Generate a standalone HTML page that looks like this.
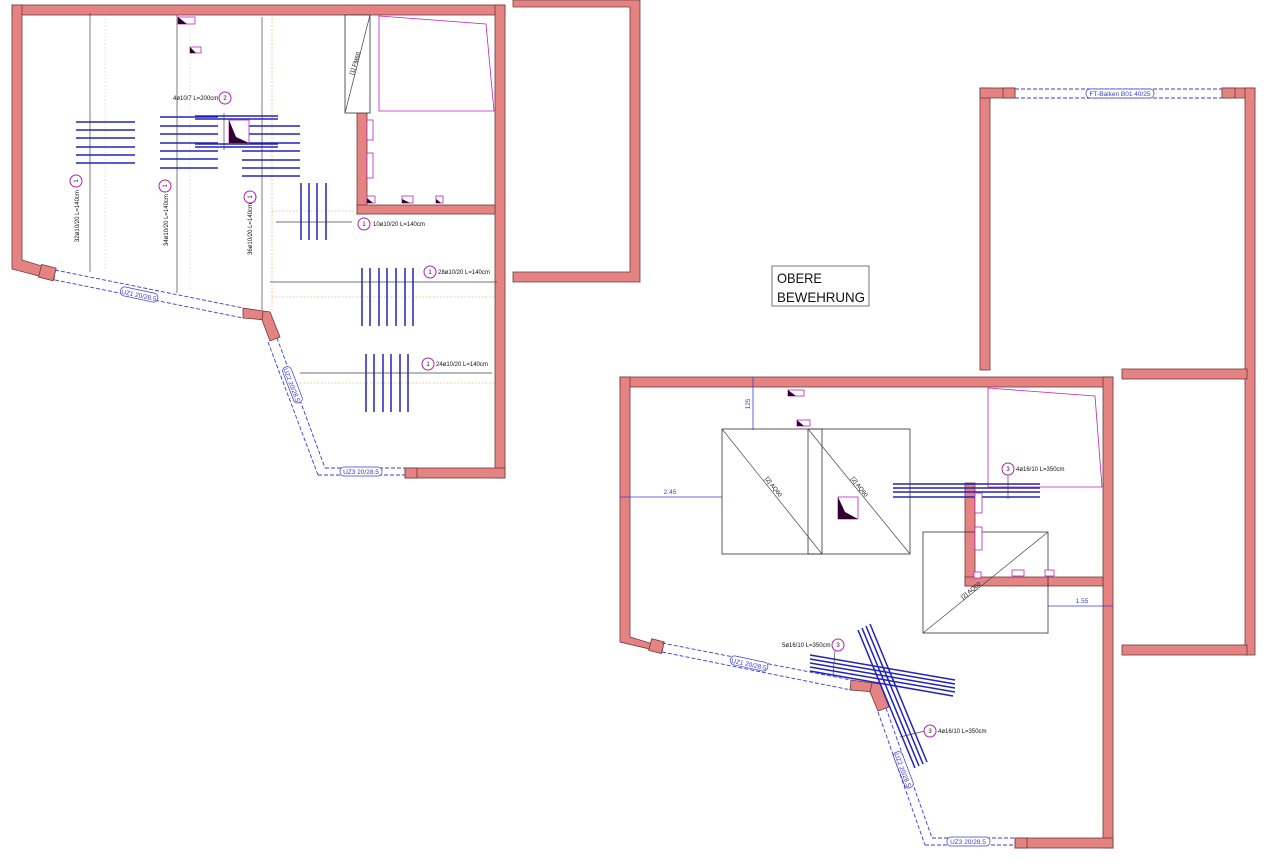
<!DOCTYPE html>
<html><head><meta charset="utf-8"><style>
html,body{margin:0;padding:0;background:#fff;}
svg{display:block;font-family:"Liberation Sans",sans-serif;}
.w{fill:#e58383;stroke:#6b3b3b;stroke-width:.8}
.d{fill:none;stroke:#3b3bd6;stroke-width:.9;stroke-dasharray:4 2}
.b{stroke:#2323b8;stroke-width:1.5}
.k{stroke:#444;stroke-width:.7;fill:none}
.o{stroke:#e8b070;stroke-width:.8;stroke-dasharray:1.5 2}
.g{stroke:#ccc;stroke-width:.6;stroke-dasharray:1.5 2}
.m{fill:#fff;stroke:#c020c0;stroke-width:.8}
.c{fill:#fff;stroke:#b020b0;stroke-width:1}
.t{font-size:6px;fill:#111}
.bl{font-size:6.5px;fill:#3b3bd6}
</style></head><body>
<svg width="1280" height="868" viewBox="0 0 1280 868" xmlns="http://www.w3.org/2000/svg">
<!-- LEFT PLAN walls -->
<rect class="w" x="12" y="5" width="493" height="10"/>
<polygon class="w" points="12,5 22,5 22,260 55,270 54,280 12,269"/>
<rect class="w" x="40" y="266" width="15" height="13" transform="rotate(14 47 272)"/>
<rect class="w" x="495" y="5" width="10" height="473"/>
<rect class="w" x="405" y="468" width="100" height="10"/>
<rect class="w" x="405" y="468" width="12" height="10"/>
<rect class="w" x="357" y="112" width="10" height="102"/>
<rect class="w" x="357" y="205" width="138" height="9"/>
<polygon class="w" points="243,308 263,311 267,320 243,318"/>
<polygon class="w" points="263,311 270,312 280,337 270,341 262,320"/>
<!-- left lintels -->
<line class="d" x1="55" y1="270" x2="243" y2="308"/><line class="d" x1="55" y1="280" x2="243" y2="318"/>
<line class="d" x1="277" y1="338" x2="325" y2="468"/><line class="d" x1="268" y1="342" x2="318" y2="475"/>
<line class="d" x1="325" y1="468" x2="405" y2="468"/><line class="d" x1="318" y1="475" x2="405" y2="475"/>
<g transform="translate(139,295) rotate(12)"><rect x="-19" y="-5" width="38" height="9" rx="4" fill="#fff" stroke="#3b3bd6" stroke-width=".7"/><text class="bl" x="0" y="2.5" text-anchor="middle">UZ1 20/28.5</text></g>
<g transform="translate(292,385) rotate(69)"><rect x="-19" y="-5" width="38" height="9" rx="4" fill="#fff" stroke="#3b3bd6" stroke-width=".7"/><text class="bl" x="0" y="2.5" text-anchor="middle">UZ2 20/28.5</text></g>
<rect x="340" y="467" width="42" height="9" rx="4" fill="#fff" stroke="#3b3bd6" stroke-width=".7"/><text class="bl" x="361" y="474" text-anchor="middle">UZ3 20/28.5</text>
<!-- dotted guides -->
<line class="g" x1="105" y1="15" x2="105" y2="270"/><line class="g" x1="190" y1="15" x2="190" y2="290"/>
<line class="o" x1="272" y1="15" x2="272" y2="310"/>
<line class="o" x1="272" y1="211" x2="357" y2="211"/><line class="o" x1="272" y1="297" x2="495" y2="297"/><line class="o" x1="300" y1="383" x2="495" y2="383"/>
<!-- dim lines -->
<line class="k" x1="90" y1="13" x2="90" y2="272"/><line class="k" x1="177" y1="15" x2="177" y2="293"/><line class="k" x1="262" y1="17" x2="262" y2="310"/>
<line class="k" x1="276" y1="222" x2="352" y2="222"/><line class="k" x1="270" y1="282" x2="497" y2="282"/><line class="k" x1="300" y1="373" x2="492" y2="373"/>
<line class="k" x1="224" y1="113" x2="224" y2="150"/>
<!-- bars left -->
<g class="b">
<line x1="76" y1="122" x2="135" y2="122"/><line x1="76" y1="130" x2="135" y2="130"/><line x1="76" y1="138" x2="135" y2="138"/><line x1="76" y1="147" x2="135" y2="147"/><line x1="76" y1="155" x2="135" y2="155"/><line x1="76" y1="163" x2="135" y2="163"/>
<line x1="160" y1="117" x2="218" y2="117"/><line x1="160" y1="126" x2="218" y2="126"/><line x1="160" y1="134" x2="218" y2="134"/><line x1="160" y1="143" x2="218" y2="143"/><line x1="160" y1="151" x2="218" y2="151"/><line x1="160" y1="159" x2="218" y2="159"/><line x1="160" y1="168" x2="218" y2="168"/>
<line x1="242" y1="126" x2="300" y2="126"/><line x1="242" y1="134" x2="300" y2="134"/><line x1="242" y1="143" x2="300" y2="143"/><line x1="242" y1="151" x2="300" y2="151"/><line x1="242" y1="160" x2="300" y2="160"/><line x1="242" y1="168" x2="300" y2="168"/><line x1="242" y1="176" x2="300" y2="176"/>
<line x1="195" y1="116" x2="278" y2="116"/><line x1="195" y1="119" x2="278" y2="119"/><line x1="195" y1="144" x2="278" y2="144"/><line x1="195" y1="147" x2="278" y2="147"/>
<line x1="301" y1="183" x2="301" y2="240"/><line x1="309" y1="183" x2="309" y2="240"/><line x1="317" y1="183" x2="317" y2="240"/><line x1="326" y1="183" x2="326" y2="240"/>
<line x1="362" y1="268" x2="362" y2="326"/><line x1="370" y1="268" x2="370" y2="326"/><line x1="379" y1="268" x2="379" y2="326"/><line x1="387" y1="268" x2="387" y2="326"/><line x1="396" y1="268" x2="396" y2="326"/><line x1="405" y1="268" x2="405" y2="326"/><line x1="413" y1="268" x2="413" y2="326"/>
<line x1="366" y1="354" x2="366" y2="412"/><line x1="374" y1="354" x2="374" y2="412"/><line x1="383" y1="354" x2="383" y2="412"/><line x1="391" y1="354" x2="391" y2="412"/><line x1="400" y1="354" x2="400" y2="412"/><line x1="408" y1="354" x2="408" y2="412"/>
</g>
<!-- labels left -->
<circle class="c" cx="76" cy="181" r="6"/><text class="t" x="76" y="183" text-anchor="middle" transform="rotate(-90 76 181)">1</text>
<circle class="c" cx="165" cy="186" r="6"/><text class="t" x="165" y="188" text-anchor="middle" transform="rotate(-90 165 186)">1</text>
<circle class="c" cx="250" cy="197" r="6"/><text class="t" x="250" y="199" text-anchor="middle" transform="rotate(-90 250 197)">1</text>
<text class="t" transform="translate(79,216) rotate(-90)" text-anchor="middle">32ø10/20 L=140cm</text>
<text class="t" transform="translate(168,220) rotate(-90)" text-anchor="middle">34ø10/20 L=140cm</text>
<text class="t" transform="translate(252,229) rotate(-90)" text-anchor="middle">36ø10/20 L=140cm</text>
<text class="t" x="173" y="100">4ø10/7 L=200cm</text><circle class="c" cx="225" cy="98" r="6"/><text class="t" x="225" y="100" text-anchor="middle">2</text>
<circle class="c" cx="364" cy="224" r="6"/><text class="t" x="364" y="226" text-anchor="middle">1</text><text class="t" x="373" y="226">10ø10/20 L=140cm</text>
<circle class="c" cx="430" cy="272" r="6"/><text class="t" x="430" y="274" text-anchor="middle">1</text><text class="t" x="438" y="274">28ø10/20 L=140cm</text>
<circle class="c" cx="428" cy="364" r="6"/><text class="t" x="428" y="366" text-anchor="middle">1</text><text class="t" x="436" y="366">24ø10/20 L=140cm</text>
<!-- FM60 -->
<rect x="345" y="15" width="25" height="98" fill="#fff" stroke="#333" stroke-width=".8"/><line class="k" x1="345" y1="113" x2="370" y2="15"/>
<text class="t" transform="translate(357,64) rotate(-72)" text-anchor="middle">[1] FM60</text>
<polygon fill="none" stroke="#c020c0" stroke-width=".8" points="379,16 486,24 494,111 379,111"/>
<!-- small icons -->
<g><rect class="m" x="178" y="17" width="17" height="7"/><polygon fill="#300030" points="178,17 178,24 187,24"/>
<rect class="m" x="190" y="47" width="11" height="6"/><polygon fill="#300030" points="190,47 190,53 196,53"/>
<rect class="m" x="229" y="120" width="20" height="23"/><polygon fill="#300030" points="229,120 229,143 249,143 236,137"/>
<rect class="m" x="367" y="120" width="6" height="20"/><rect class="m" x="367" y="153" width="6" height="25"/>
<rect class="m" x="367" y="196" width="8" height="7"/><polygon fill="#300030" points="367,198 367,203 373,203"/>
<rect class="m" x="402" y="196" width="11" height="7"/><polygon fill="#300030" points="402,199 402,203 410,203"/>
<rect class="m" x="436" y="196" width="7" height="7"/><polygon fill="#300030" points="436,199 436,203 441,203"/></g>

<!-- top middle L -->
<polygon class="w" points="513,0 640,0 640,282 513,282 513,272 630,272 630,7 513,7"/>
<!-- OBERE -->
<rect x="772" y="266" width="97" height="40" fill="#fff" stroke="#555" stroke-width=".8"/>
<text x="777" y="283" font-size="14" fill="#111" textLength="45" lengthAdjust="spacingAndGlyphs">OBERE</text>
<text x="777" y="302" font-size="14" fill="#111" textLength="88" lengthAdjust="spacingAndGlyphs">BEWEHRUNG</text>
<!-- right frame -->
<rect class="w" x="980" y="88" width="10" height="282"/>
<rect class="w" x="980" y="88" width="35" height="10"/><rect class="w" x="1003" y="88" width="12" height="10"/>
<rect class="w" x="1222" y="88" width="33" height="10"/><rect class="w" x="1222" y="88" width="13" height="10"/>
<rect class="w" x="1245" y="88" width="10" height="567"/>
<rect class="w" x="1122" y="369" width="125" height="10"/><rect class="w" x="1122" y="645" width="125" height="10"/>
<line class="d" x1="1015" y1="89" x2="1222" y2="89"/><line class="d" x1="1015" y1="98" x2="1222" y2="98"/>
<rect x="1086" y="89" width="68" height="9" rx="4" fill="#fff" stroke="#3b3bd6" stroke-width=".7"/><text class="bl" x="1120" y="96" text-anchor="middle" font-size="6">FT-Balken B01 40/25</text>

<!-- RIGHT PLAN walls -->
<rect class="w" x="620" y="377" width="493" height="10"/>
<polygon class="w" points="620,377 630,377 630,637 663,647 662,652 620,642"/>
<rect class="w" x="650" y="640" width="13" height="12" transform="rotate(14 656 646)"/>
<rect class="w" x="1103" y="377" width="10" height="471"/>
<rect class="w" x="1015" y="838" width="98" height="10"/><rect class="w" x="1015" y="838" width="12" height="10"/>
<rect class="w" x="965" y="483" width="10" height="103"/>
<rect class="w" x="965" y="577" width="138" height="9"/>
<polygon class="w" points="851,680 872,683 876,692 850,690"/>
<polygon class="w" points="872,683 880,684 889,707 878,711 870,692"/>
<line class="d" x1="662" y1="643" x2="851" y2="680"/><line class="d" x1="662" y1="652" x2="851" y2="690"/>
<line class="d" x1="886" y1="708" x2="932" y2="838"/><line class="d" x1="878" y1="712" x2="925" y2="845"/>
<line class="d" x1="932" y1="838" x2="1015" y2="838"/><line class="d" x1="925" y1="845" x2="1015" y2="845"/>
<g transform="translate(749,664) rotate(12)"><rect x="-19" y="-5" width="38" height="9" rx="4" fill="#fff" stroke="#3b3bd6" stroke-width=".7"/><text class="bl" x="0" y="2.5" text-anchor="middle">UZ1 20/28.5</text></g>
<g transform="translate(903,770) rotate(69)"><rect x="-19" y="-5" width="38" height="9" rx="4" fill="#fff" stroke="#3b3bd6" stroke-width=".7"/><text class="bl" x="0" y="2.5" text-anchor="middle">UZ2 20/28.5</text></g>
<rect x="947" y="837" width="43" height="9" rx="4" fill="#fff" stroke="#3b3bd6" stroke-width=".7"/><text class="bl" x="968" y="844" text-anchor="middle">UZ3 20/28.5</text>
<!-- mats -->
<rect x="722" y="429" width="100" height="125" fill="none" stroke="#333" stroke-width=".8"/>
<rect x="808" y="429" width="102" height="125" fill="none" stroke="#333" stroke-width=".8"/>
<line class="k" x1="722" y1="429" x2="822" y2="554"/><line class="k" x1="808" y1="429" x2="910" y2="554"/>
<rect x="923" y="532" width="125" height="101" fill="none" stroke="#333" stroke-width=".8"/>
<line class="k" x1="923" y1="633" x2="1048" y2="532"/>
<text class="t" transform="translate(772,488) rotate(52)" text-anchor="middle">[2] AQ60</text>
<text class="t" transform="translate(858,488) rotate(52)" text-anchor="middle">[2] AQ60</text>
<text class="t" transform="translate(972,592) rotate(-39)" text-anchor="middle">[2] AQ60</text>
<polygon fill="none" stroke="#c020c0" stroke-width=".8" points="988,388 1095,396 1102,487 988,487"/>
<!-- dims right -->
<line stroke="#3b3bd6" stroke-width=".8" x1="753" y1="377" x2="753" y2="430"/><text class="bl" font-size="6" transform="translate(750,404) rotate(-90)" text-anchor="middle">125</text>
<line stroke="#3b3bd6" stroke-width=".8" x1="620" y1="497" x2="722" y2="497"/><text class="bl" font-size="6" x="670" y="494" text-anchor="middle">2.45</text>
<line stroke="#3b3bd6" stroke-width=".8" x1="1048" y1="606" x2="1113" y2="606"/><text class="bl" font-size="6" x="1082" y="603" text-anchor="middle">1.55</text>
<!-- bars right -->
<g class="b" stroke-width="1.3">
<line x1="893" y1="484" x2="1040" y2="484"/><line x1="893" y1="488" x2="1040" y2="488"/><line x1="893" y1="492" x2="1040" y2="492"/><line x1="893" y1="497" x2="1040" y2="497"/>
<line x1="810" y1="655" x2="955" y2="680"/><line x1="810" y1="659" x2="955" y2="684"/><line x1="810" y1="663" x2="955" y2="688"/><line x1="810" y1="667" x2="955" y2="692"/><line x1="810" y1="671" x2="953" y2="696"/>
<line x1="858" y1="630" x2="915" y2="768"/><line x1="862" y1="628" x2="919" y2="766"/><line x1="866" y1="626" x2="923" y2="764"/><line x1="870" y1="624" x2="927" y2="762"/>
</g>
<line class="k" x1="1008" y1="475" x2="1008" y2="499"/><line class="k" x1="835" y1="651" x2="833" y2="675"/><line class="k" x1="900" y1="737" x2="925" y2="731"/>
<circle class="c" cx="1008" cy="469" r="6"/><text class="t" x="1008" y="471" text-anchor="middle">3</text><text class="t" x="1016" y="471">4ø16/10 L=350cm</text>
<text class="t" x="782" y="647">5ø16/10 L=350cm</text><circle class="c" cx="838" cy="645" r="6"/><text class="t" x="838" y="647" text-anchor="middle">3</text>
<circle class="c" cx="930" cy="731" r="6"/><text class="t" x="930" y="733" text-anchor="middle">3</text><text class="t" x="938" y="733">4ø16/10 L=350cm</text>
<!-- icons right -->
<rect class="m" x="788" y="390" width="16" height="6"/><polygon fill="#300030" points="788,390 788,396 796,396"/>
<rect class="m" x="797" y="420" width="13" height="6"/><polygon fill="#300030" points="797,420 797,426 804,426"/>
<rect class="m" x="838" y="497" width="20" height="22"/><polygon fill="#300030" points="838,497 838,519 858,519 845,512"/>
<rect class="m" x="975" y="493" width="7" height="20"/><rect class="m" x="975" y="527" width="7" height="23"/>
<rect class="m" x="974" y="572" width="7" height="6"/><rect class="m" x="1012" y="570" width="12" height="6"/><rect class="m" x="1045" y="570" width="9" height="6"/>
</svg>
</body></html>
